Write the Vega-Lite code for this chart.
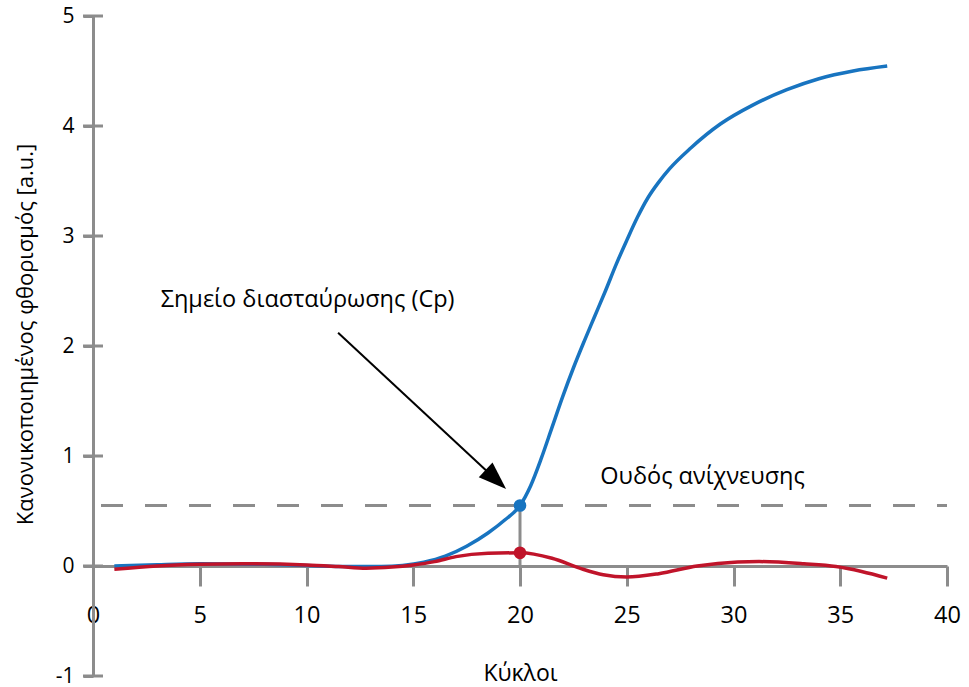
{
  "$schema": "https://vega.github.io/schema/vega-lite/v6.json",
  "width": 854,
  "height": 660,
  "autosize": "none",
  "padding": {"left": 93, "top": 16, "right": 22, "bottom": 11},
  "background": "white",
  "config": {"view": {"stroke": null}, "font": "Open Sans"},
  "datasets": {
    "curves": [
      {"cycle": 1, "value": 0.0, "series": "blue"},
      {"cycle": 3, "value": 0.012, "series": "blue"},
      {"cycle": 5, "value": 0.02, "series": "blue"},
      {"cycle": 8, "value": 0.015, "series": "blue"},
      {"cycle": 10, "value": 0.005, "series": "blue"},
      {"cycle": 12, "value": -0.005, "series": "blue"},
      {"cycle": 13.5, "value": -0.005, "series": "blue"},
      {"cycle": 14.5, "value": 0.005, "series": "blue"},
      {"cycle": 15.5, "value": 0.035, "series": "blue"},
      {"cycle": 16.5, "value": 0.09, "series": "blue"},
      {"cycle": 17.5, "value": 0.18, "series": "blue"},
      {"cycle": 18.5, "value": 0.3, "series": "blue"},
      {"cycle": 19.3, "value": 0.42, "series": "blue"},
      {"cycle": 20, "value": 0.55, "series": "blue"},
      {"cycle": 20.5, "value": 0.73, "series": "blue"},
      {"cycle": 21, "value": 0.98, "series": "blue"},
      {"cycle": 21.5, "value": 1.26, "series": "blue"},
      {"cycle": 22, "value": 1.54, "series": "blue"},
      {"cycle": 22.5, "value": 1.8, "series": "blue"},
      {"cycle": 23, "value": 2.04, "series": "blue"},
      {"cycle": 23.5, "value": 2.27, "series": "blue"},
      {"cycle": 24, "value": 2.5, "series": "blue"},
      {"cycle": 24.5, "value": 2.74, "series": "blue"},
      {"cycle": 25, "value": 2.96, "series": "blue"},
      {"cycle": 25.5, "value": 3.17, "series": "blue"},
      {"cycle": 26, "value": 3.35, "series": "blue"},
      {"cycle": 26.5, "value": 3.49, "series": "blue"},
      {"cycle": 27, "value": 3.61, "series": "blue"},
      {"cycle": 28, "value": 3.8, "series": "blue"},
      {"cycle": 29.4, "value": 4.02, "series": "blue"},
      {"cycle": 30.9, "value": 4.19, "series": "blue"},
      {"cycle": 32.5, "value": 4.33, "series": "blue"},
      {"cycle": 34, "value": 4.43, "series": "blue"},
      {"cycle": 35.6, "value": 4.5, "series": "blue"},
      {"cycle": 37.2, "value": 4.545, "series": "blue"},
      {"cycle": 1, "value": -0.03, "series": "red"},
      {"cycle": 3, "value": 0.0, "series": "red"},
      {"cycle": 5, "value": 0.015, "series": "red"},
      {"cycle": 7, "value": 0.02, "series": "red"},
      {"cycle": 10, "value": 0.01, "series": "red"},
      {"cycle": 11.5, "value": -0.005, "series": "red"},
      {"cycle": 12.8, "value": -0.02, "series": "red"},
      {"cycle": 14, "value": -0.01, "series": "red"},
      {"cycle": 15, "value": 0.01, "series": "red"},
      {"cycle": 16, "value": 0.04, "series": "red"},
      {"cycle": 17, "value": 0.085, "series": "red"},
      {"cycle": 18.5, "value": 0.115, "series": "red"},
      {"cycle": 20, "value": 0.12, "series": "red"},
      {"cycle": 21.5, "value": 0.07, "series": "red"},
      {"cycle": 22.8, "value": -0.02, "series": "red"},
      {"cycle": 23.9, "value": -0.08, "series": "red"},
      {"cycle": 25, "value": -0.1, "series": "red"},
      {"cycle": 26.5, "value": -0.07, "series": "red"},
      {"cycle": 28.3, "value": 0.0, "series": "red"},
      {"cycle": 30.2, "value": 0.036, "series": "red"},
      {"cycle": 31.2, "value": 0.04, "series": "red"},
      {"cycle": 33.3, "value": 0.02, "series": "red"},
      {"cycle": 34.8, "value": -0.005, "series": "red"},
      {"cycle": 36, "value": -0.05, "series": "red"},
      {"cycle": 37.2, "value": -0.11, "series": "red"}
    ],
    "dots": [
      {"cycle": 20, "value": 0.55, "series": "blue"},
      {"cycle": 20, "value": 0.12, "series": "red"}
    ],
    "threshold": [{"value": 0.55}],
    "yticks": [{"value": -1}, {"value": 0}, {"value": 1}, {"value": 2}, {"value": 3}, {"value": 4}, {"value": 5}],
    "cp": [{"cycle": 20, "value": 0, "value2": 0.55}],
    "arrow": [{"cycle": 11.48, "value": 2.12, "cycle2": 18.87, "value2": 0.787}],
    "head": [{"cycle": 18.87, "value": 0.787}],
    "labels": [
      {"cycle": 10.05, "value": 2.42, "text": "Σημείο διασταύρωσης (Cp)"},
      {"cycle": 28.55, "value": 0.81, "text": "Ουδός ανίχνευσης"}
    ]
  },
  "layer": [
    {
      "data": {"name": "threshold"},
      "mark": {"type": "rule", "color": "#8c8c8c", "strokeWidth": 3, "strokeDash": [22, 22], "strokeDashOffset": 12},
      "encoding": {
        "y": {"field": "value", "type": "quantitative", "scale": {"domain": [-1, 5], "nice": false},
          "axis": {
            "orient": "left",
            "values": [-1, 0, 1, 2, 3, 4, 5],
            "labelExpr": "'' + datum.value",
            "grid": false,
            "domainColor": "#8c8c8c", "domainWidth": 3,
            "tickColor": "#8c8c8c", "tickWidth": 3, "tickSize": 10,
            "labelFontSize": 21, "labelColor": "#000000", "labelPadding": 9, "labelFont": "Open Sans",
            "title": "Κανονικοποιημένος φθορισμός [a.u.]",
            "titleFontSize": 22, "titleFontWeight": "normal", "titleColor": "#000000", "titleFont": "Open Sans",
            "titleX": -68, "titleY": 318, "titleBaseline": "middle", "titleAngle": 270
          }
        }
      }
    },
    {
      "data": {"name": "yticks"},
      "mark": {"type": "tick", "color": "#8c8c8c", "thickness": 3, "size": 20, "orient": "horizontal", "opacity": 1},
      "encoding": {
        "y": {"field": "value", "type": "quantitative"},
        "x": {"datum": 0, "type": "quantitative"}
      }
    },
    {
      "data": {"name": "cp"},
      "mark": {"type": "rule", "color": "#8c8c8c", "strokeWidth": 3},
      "encoding": {
        "x": {"field": "cycle", "type": "quantitative", "scale": {"domain": [0, 40], "nice": false},
          "axis": {
            "orient": "bottom",
            "offset": -110,
            "values": [0, 5, 10, 15, 20, 25, 30, 35, 40],
            "grid": false,
            "domainColor": "#8c8c8c", "domainWidth": 3,
            "tickColor": "#8c8c8c", "tickWidth": 3, "tickSize": 20,
            "labelFontSize": 23.5, "labelColor": "#000000", "labelFont": "Open Sans",
            "labelBaseline": "alphabetic", "labelPadding": 36, "labelFlush": false, "labelOverlap": false,
            "title": "Κύκλοι",
            "titleFontSize": 23, "titleFontWeight": "normal", "titleColor": "#000000", "titleFont": "Open Sans",
            "titleX": 427, "titleY": 114, "titleBaseline": "alphabetic"
          }
        },
        "y": {"field": "value", "type": "quantitative"},
        "y2": {"field": "value2"}
      }
    },
    {
      "data": {"name": "curves"},
      "mark": {"type": "line", "strokeWidth": 3.5, "interpolate": "monotone"},
      "encoding": {
        "x": {"field": "cycle", "type": "quantitative"},
        "y": {"field": "value", "type": "quantitative"},
        "color": {"field": "series", "type": "nominal", "scale": {"domain": ["blue", "red"], "range": ["#1874c0", "#c0142a"]}, "legend": null},
        "order": {"field": "cycle", "type": "quantitative"}
      }
    },
    {
      "data": {"name": "dots"},
      "mark": {"type": "circle", "size": 160, "opacity": 1},
      "encoding": {
        "x": {"field": "cycle", "type": "quantitative"},
        "y": {"field": "value", "type": "quantitative"},
        "color": {"field": "series", "type": "nominal", "legend": null}
      }
    },
    {
      "data": {"name": "arrow"},
      "mark": {"type": "rule", "color": "#000000", "strokeWidth": 2},
      "encoding": {
        "x": {"field": "cycle", "type": "quantitative"},
        "y": {"field": "value", "type": "quantitative"},
        "x2": {"field": "cycle2"},
        "y2": {"field": "value2"}
      }
    },
    {
      "data": {"name": "head"},
      "mark": {"type": "point", "shape": "M0,-1L0.72,1L-0.72,1Z", "filled": true, "color": "#000000", "opacity": 1, "size": 784, "angle": 133},
      "encoding": {
        "x": {"field": "cycle", "type": "quantitative"},
        "y": {"field": "value", "type": "quantitative"}
      }
    },
    {
      "data": {"name": "labels"},
      "mark": {"type": "text", "fontSize": 23.5, "font": "Open Sans", "color": "#000000", "align": "center", "baseline": "middle"},
      "encoding": {
        "x": {"field": "cycle", "type": "quantitative"},
        "y": {"field": "value", "type": "quantitative"},
        "text": {"field": "text"}
      }
    }
  ]
}
